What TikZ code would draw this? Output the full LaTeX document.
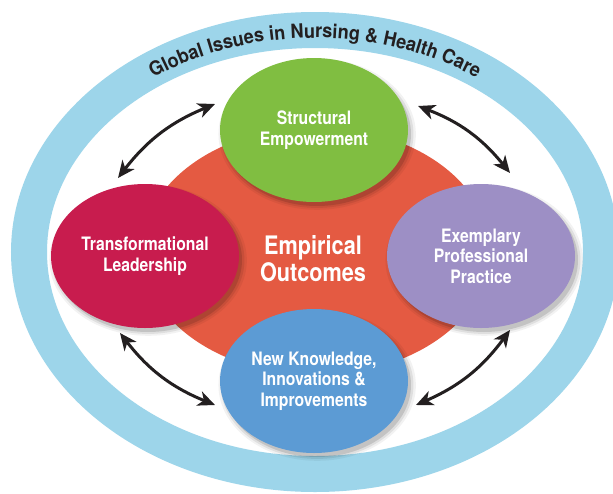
\documentclass[tikz,border=0pt]{standalone}
\usepackage{fontspec}
\newfontfamily\condf[FakeStretch=0.85]{TeX Gyre Heros}
\newfontfamily\titlef[FakeStretch=0.93]{TeX Gyre Heros}
\usetikzlibrary{shapes.geometric,arrows.meta,decorations.text,shadows}
\definecolor{ringblue}{RGB}{157,213,234}
\definecolor{coreorange}{RGB}{228,90,66}
\definecolor{seGreen}{RGB}{128,190,65}
\definecolor{tlRed}{RGB}{200,28,78}
\definecolor{epPurple}{RGB}{157,143,197}
\definecolor{nkBlue}{RGB}{92,155,212}
\definecolor{inkdark}{RGB}{35,31,32}
\tikzset{
  shad/.style={
    general shadow={fill=black,opacity=.05,shadow xshift=3pt,shadow yshift=-4pt,shadow scale=1.05},
    general shadow={fill=black,opacity=.08,shadow xshift=3pt,shadow yshift=-4pt,shadow scale=1.025},
    general shadow={fill=black,opacity=.12,shadow xshift=3pt,shadow yshift=-4pt}},
  pillar/.style={ellipse, shad, minimum width=188pt, minimum height=144pt, inner sep=0pt,
    text=white, align=center, font=\condf\bfseries\fontsize{18.5}{20.5}\selectfont},
  dblarrow/.style={inkdark, line width=3pt,
    {Stealth[length=17pt,width=15pt,inset=5pt]}-{Stealth[length=17pt,width=15pt,inset=5pt]}}
}
\begin{document}
\begin{tikzpicture}[x=1pt,y=-1pt]
\useasboundingbox (0,0) rectangle (613,493);
\fill[white] (0,0) rectangle (613,493);
\clip (0,0) rectangle (613,493);
% outer ring
\draw[ringblue, line width=36pt] (315,252) ellipse [x radius=286, y radius=222];
% title along the ring
\path[decorate, decoration={text along path, text align=center,
  text={|\titlef\bfseries\fontsize{19.5}{19.5}\selectfont\color{inkdark}|Global Issues in Nursing {\&} Health Care}}]
  (53.76,178.8) arc [start angle=200, end angle=340, x radius=278, y radius=214];
% core
\node[ellipse, fill=coreorange, minimum width=348pt, minimum height=248pt, inner sep=0pt] (core) at (316,251) {};
% arrow end points
\coordinate (tla) at (118,178); \coordinate (tlb) at (215,104);
\coordinate (tra) at (418,106); \coordinate (trb) at (510,173);
\coordinate (bra) at (510,330); \coordinate (brb) at (416,405);
\coordinate (bla) at (215,405); \coordinate (blb) at (120,333);
\draw[dblarrow] (tla) to[bend left=15] (tlb);
\draw[dblarrow] (tra) to[bend left=15] (trb);
\draw[dblarrow] (bra) to[bend left=15] (brb);
\draw[dblarrow] (bla) to[bend left=15] (blb);
% pillars
\node[pillar, fill=seGreen] (se) at (314,130) {Structural\\Empowerment};
\node[pillar, fill=tlRed] (tl) at (145,256) {Transformational\\Leadership};
\node[pillar, fill=epPurple] (ep) at (481,256) {Exemplary\\Professional\\Practice};
\node[pillar, fill=nkBlue] (nk) at (314,381) {New Knowledge,\\Innovations \&\\Improvements};
% center text
\node[text=white, align=center, font=\condf\bfseries\fontsize{25.5}{27}\selectfont] (emp) at (313,259) {Empirical\\Outcomes};
\end{tikzpicture}
\end{document}
